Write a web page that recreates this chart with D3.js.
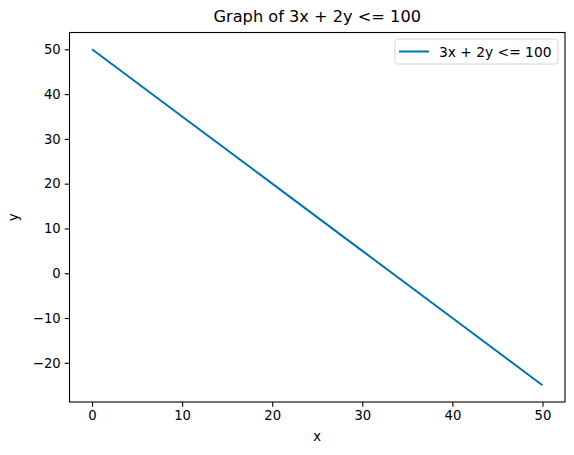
<!DOCTYPE html>
<html>
<head>
<meta charset="utf-8">
<script src="https://cdn.jsdelivr.net/npm/d3@7"></script>
<style>
	body { margin: 0; background: #fff; }
	text { font-family: "DejaVu Sans", sans-serif; fill: #000; }
</style>
</head>
<body>
<div id="chart-area"></div>
<script>
// SVG Size
let width = 574,
	height = 455;

// values
let xValues = [0, 10, 20, 30, 40, 50];
let yValues = [50, 35, 20, 5, -10, -25];
let xTicks = [0, 10, 20, 30, 40, 50];
let yTicks = [-20, -10, 0, 10, 20, 30, 40, 50];
let seriesName = "3x + 2y <= 100";

let lineColor = "#0173b2";
let fontSize = "13.2px";

let margin = {left: 69.5, right: 9, top: 32.5, bottom: 53};

let svg = d3.select("#chart-area").append("svg")
	.attr("width", width)
	.attr("height", height);

let data = xValues.map((x, i) => ({x: x, y: yValues[i]}));

// matplotlib style 5% padding
let xExt = d3.extent(xValues), yExt = d3.extent(yValues);
let xPad = (xExt[1] - xExt[0]) * 0.05, yPad = (yExt[1] - yExt[0]) * 0.05;

let XScale = d3.scaleLinear()
	.domain([xExt[0] - xPad, xExt[1] + xPad])
	.range([margin.left, width - margin.right]);
let YScale = d3.scaleLinear()
	.domain([yExt[0] - yPad, yExt[1] + yPad])
	.range([height - margin.bottom, margin.top]);

let xAxis = d3.axisBottom(XScale)
	.tickValues(xTicks)
	.tickSizeOuter(0)
	.tickSize(4.8)
	.tickPadding(4);
let yAxis = d3.axisLeft(YScale)
	.tickValues(yTicks)
	.tickSizeOuter(0)
	.tickSize(4.8)
	.tickPadding(4)
	.tickFormat(d => d < 0 ? "\u2212" + Math.abs(d) : d);

svg.append("g")
	.attr("class", "axis x-axis")
	.attr("transform", "translate(0," + (height - margin.bottom) + ")")
	.call(xAxis);
svg.append("g")
	.attr("class", "axis y-axis")
	.attr("transform", "translate(" + margin.left + ",0)")
	.call(yAxis);

svg.selectAll(".axis .domain").remove();
svg.selectAll(".axis text").style("font-size", fontSize).attr("fill", "#000");
svg.selectAll(".axis line").attr("stroke", "#000").attr("stroke-width", 1.1);

// the frame
svg.append("rect")
	.attr("x", XScale.range()[0])
	.attr("y", YScale.range()[1])
	.attr("width", XScale.range()[1] - XScale.range()[0])
	.attr("height", YScale.range()[0] - YScale.range()[1])
	.attr("fill", "none")
	.attr("stroke", "#000")
	.attr("stroke-width", 1.1);

// the line
let line = d3.line()
	.x(d => XScale(d.x))
	.y(d => YScale(d.y));

svg.append("path")
	.datum(data)
	.attr("d", line)
	.attr("fill", "none")
	.attr("stroke", lineColor)
	.attr("stroke-width", 2);

// title and labels
svg.append("text")
	.attr("x", (XScale.range()[0] + XScale.range()[1]) / 2)
	.attr("y", 22)
	.attr("text-anchor", "middle")
	.style("font-size", "16.2px")
	.text("Graph of " + seriesName);

svg.append("text")
	.attr("x", (XScale.range()[0] + XScale.range()[1]) / 2)
	.attr("y", 441)
	.attr("text-anchor", "middle")
	.style("font-size", fontSize)
	.text("x");

svg.append("text")
	.attr("transform", "translate(18," + ((YScale.range()[0] + YScale.range()[1]) / 2) + ") rotate(-90)")
	.attr("text-anchor", "middle")
	.style("font-size", fontSize)
	.text("y");

// legend
let legend = svg.append("g")
	.attr("transform", "translate(395,39)");
legend.append("rect")
	.attr("width", 163)
	.attr("height", 25)
	.attr("rx", 2.5)
	.attr("fill", "#fff")
	.attr("fill-opacity", 0.8)
	.attr("stroke", "#d5d5d5")
	.attr("stroke-width", 1);
legend.append("line")
	.attr("x1", 4).attr("x2", 34)
	.attr("y1", 12.5).attr("y2", 12.5)
	.attr("stroke", lineColor)
	.attr("stroke-width", 2);
legend.append("text")
	.attr("x", 44)
	.attr("y", 17.5)
	.style("font-size", "13.8px")
	.text(seriesName);
</script>
</body>
</html>
